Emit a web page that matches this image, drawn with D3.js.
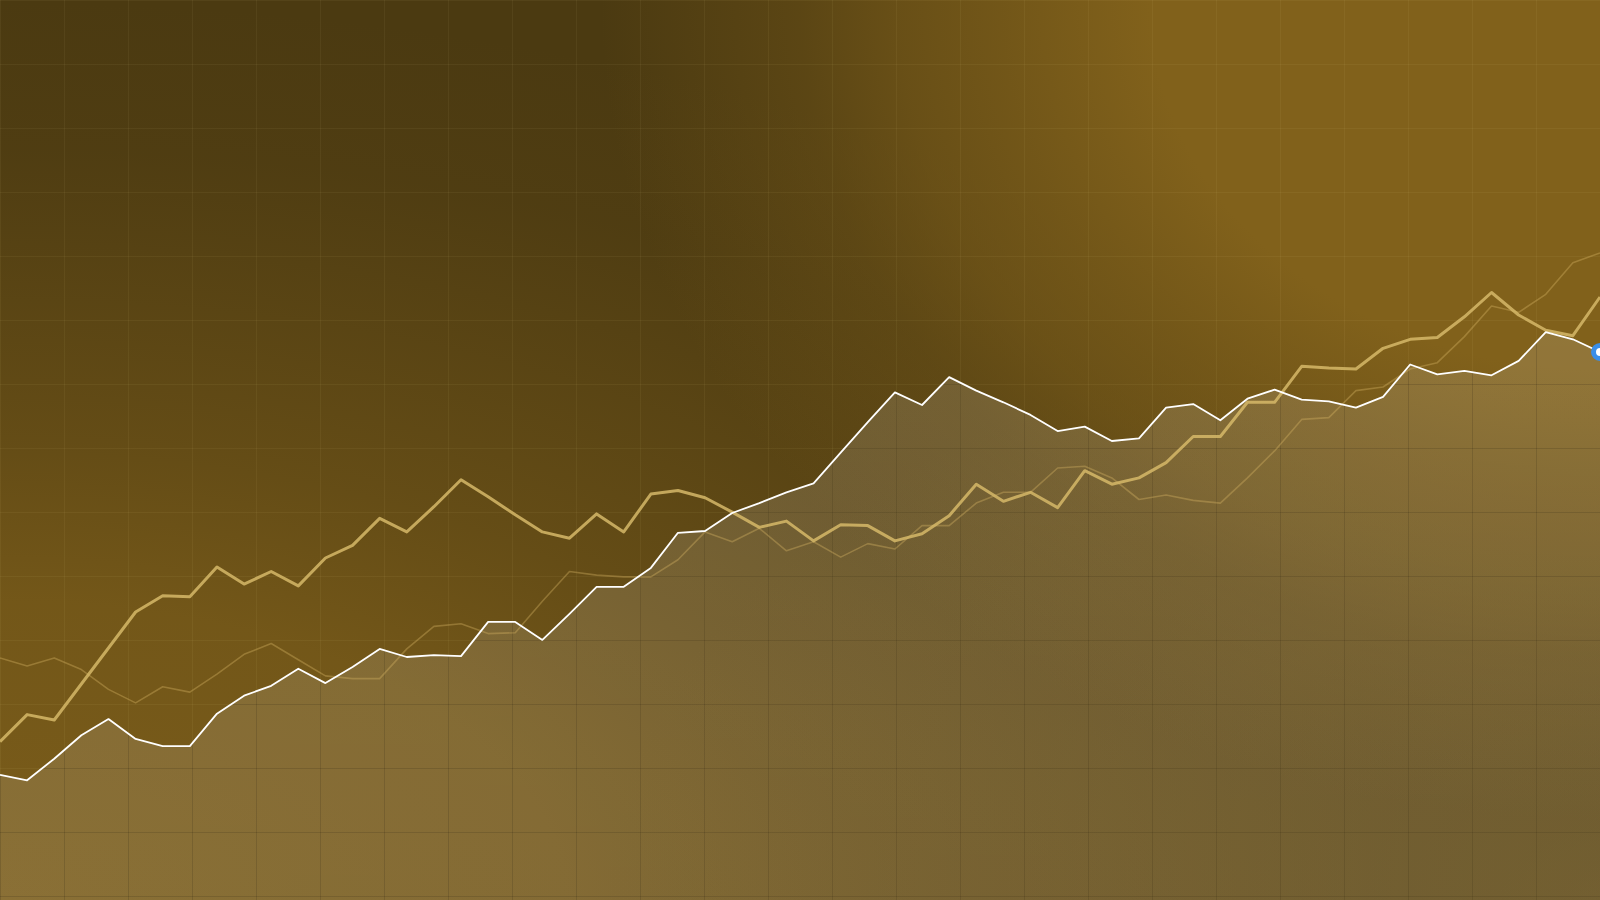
<!DOCTYPE html>
<html>
<head>
<meta charset="utf-8">
<script src="https://cdn.jsdelivr.net/npm/d3@7/dist/d3.min.js"></script>
<style>
  html, body { margin: 0; padding: 0; background: #4b3a11; overflow: hidden; }
  svg { display: block; }
</style>
</head>
<body>
<svg id="chart" width="1600" height="900"></svg>
<script>
// ---- data ----
const whiteSeries = [13.9,13.3,15.7,18.3,20.1,17.9,17.1,17.1,20.7,22.7,23.8,25.7,24.1,25.9,27.9,27.0,27.2,27.1,30.9,30.9,
  28.9,31.8,34.8,34.8,36.9,40.8,41.0,43.0,44.1,45.3,46.3,49.7,53.1,56.4,55.0,58.1,56.6,55.3,53.9,52.1,
  52.6,51.0,51.3,54.7,55.1,53.3,55.7,56.7,55.6,55.4,54.7,55.9,59.5,58.4,58.8,58.3,59.9,63.1,62.3,60.9];
const goldSeries = [17.6,20.6,20.0,24.0,28.0,32.0,33.8,33.7,37.0,35.1,36.5,34.9,38.0,39.4,42.4,40.9,43.7,46.7,44.8,42.8,
  40.9,40.2,42.9,40.9,45.1,45.5,44.7,43.1,41.4,42.1,39.9,41.7,41.6,39.9,40.7,42.7,46.2,44.3,45.3,43.6,
  47.7,46.2,46.9,48.6,51.5,51.5,55.3,55.3,59.3,59.1,59.0,61.3,62.3,62.5,64.8,67.5,65.0,63.3,62.7,67.0];
const faintSeries = [26.9,26.0,26.9,25.6,23.4,21.9,23.7,23.1,25.1,27.3,28.5,26.7,24.9,24.6,24.6,27.9,30.4,30.7,29.6,29.7,
  33.2,36.5,36.1,35.9,35.9,37.8,40.9,39.8,41.3,38.8,39.8,38.1,39.6,39.0,41.6,41.6,44.1,45.3,45.3,48.0,
  48.2,46.9,44.5,45.0,44.4,44.1,46.9,49.9,53.4,53.6,56.6,57.0,59.0,59.7,62.6,66.0,65.3,67.3,70.8,71.9];
const periods = whiteSeries.map((_, i) => i);
const yDomain = [0, 100];

// ---- layout ----
const W = 1600, H = 900, GRID = 64;
const svg = d3.select('#chart');
const defs = svg.append('defs');

function glow(id, transform, color, stops) {
  const g = defs.append('radialGradient').attr('id', id)
    .attr('gradientUnits', 'userSpaceOnUse').attr('cx', 0).attr('cy', 0).attr('r', 1)
    .attr('gradientTransform', transform);
  stops.forEach(([o, a]) => g.append('stop').attr('offset', o)
    .attr('stop-color', color).attr('stop-opacity', a));
}
// background: dark base with gold glows from the top-right, bottom-left and (weaker) bottom-right
glow('glowTR', 'translate(1600,0) scale(1000,820)', '#81611b',
  [[0, 1], [0.45, 1], [0.6, 0.72], [0.7, 0.55], [0.8, 0.3], [0.9, 0.15], [1, 0]]);
glow('glowBL', 'translate(0,900) scale(1700,900)', '#7a5c1a',
  [[0, 1], [0.333, 0.85], [0.5, 0.55], [0.667, 0.32], [0.833, 0.09], [1, 0]]);
glow('glowBR', 'translate(1600,900) scale(1000,600)', '#7a5c1a',
  [[0, 0.42], [0.5, 0.26], [1, 0]]);

const areaGrad = defs.append('linearGradient').attr('id', 'areaFill')
  .attr('x1', 0).attr('y1', 0).attr('x2', 0).attr('y2', 1);
areaGrad.append('stop').attr('offset', 0).attr('stop-color', '#ffffff').attr('stop-opacity', 0.13);
areaGrad.append('stop').attr('offset', 1).attr('stop-color', '#ffffff').attr('stop-opacity', 0.12);

svg.append('rect').attr('width', W).attr('height', H).attr('fill', '#4b3a11');
['glowBL', 'glowBR', 'glowTR'].forEach(id =>
  svg.append('rect').attr('width', W).attr('height', H).attr('fill', `url(#${id})`));

// scales
const x = d3.scaleLinear().domain([0, periods.length - 1]).range([0, W]);
const y = d3.scaleLinear().domain(yDomain).range([H, 0]);

const vTicks = d3.range(0, W + 1, GRID), hTicks = d3.range(0, H + 1, GRID);
function drawGrid(g) {
  g.selectAll('line.v').data(vTicks).join('line').attr('class', 'v')
    .attr('x1', d => d + 0.5).attr('x2', d => d + 0.5).attr('y1', 0).attr('y2', H);
  g.selectAll('line.h').data(hTicks).join('line').attr('class', 'h')
    .attr('y1', d => d + 0.5).attr('y2', d => d + 0.5).attr('x1', 0).attr('x2', W);
}

// faint light grid over the background
svg.append('g').attr('stroke', '#ffe6aa').attr('stroke-opacity', 0.055).attr('stroke-width', 1).call(drawGrid);

// area under white series
const area = d3.area().x((d, i) => x(periods[i])).y0(H).y1(d => y(d));
defs.append('clipPath').attr('id', 'areaClip').append('path').datum(whiteSeries).attr('d', area);
svg.append('path').datum(whiteSeries).attr('d', area).attr('fill', 'url(#areaFill)');

// darker grid lines inside the filled area
svg.append('g').attr('clip-path', 'url(#areaClip)')
  .attr('stroke', '#281c05').attr('stroke-opacity', 0.22).attr('stroke-width', 1).call(drawGrid);

// lines
const line = d3.line().x((d, i) => x(periods[i])).y(d => y(d));
svg.append('path').datum(faintSeries).attr('d', line)
  .attr('fill', 'none').attr('stroke', '#d4b464').attr('stroke-opacity', 0.38)
  .attr('stroke-width', 1.6).attr('stroke-linejoin', 'round');
svg.append('path').datum(goldSeries).attr('d', line)
  .attr('fill', 'none').attr('stroke', '#d6b868').attr('stroke-opacity', 0.85)
  .attr('stroke-width', 3).attr('stroke-linejoin', 'round');
svg.append('path').datum(whiteSeries).attr('d', line)
  .attr('fill', 'none').attr('stroke', '#ffffff')
  .attr('stroke-width', 1.8).attr('stroke-linejoin', 'round');

// end marker
const last = periods.length - 1;
svg.append('circle').attr('cx', x(periods[last])).attr('cy', y(whiteSeries[last]))
  .attr('r', 6.5).attr('fill', '#ffffff').attr('stroke', '#3a8ee8').attr('stroke-width', 5);
</script>
</body>
</html>
